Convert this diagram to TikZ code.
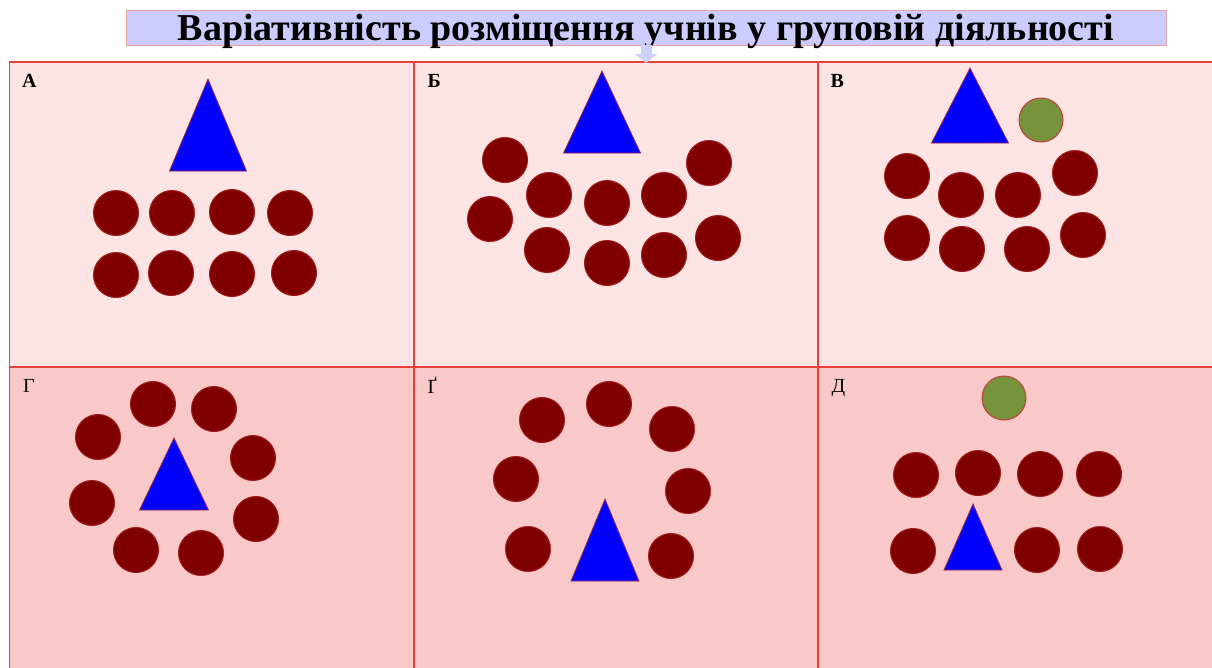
\documentclass[tikz,border=0pt]{standalone}
\usepackage{fontspec}
\setmainfont{Liberation Serif}
\usepackage{xcolor}
\definecolor{cStudent}{HTML}{800000}
\definecolor{cStudentLine}{HTML}{A01C1C}
\definecolor{cTeacher}{HTML}{0000FF}
\definecolor{cTeacherLine}{HTML}{A02448}
\definecolor{cHelper}{HTML}{77933C}
\definecolor{cHelperLine}{HTML}{C0403A}
\definecolor{cGrid}{HTML}{E8403C}
\definecolor{cTop}{HTML}{FDE4E4}
\definecolor{cBottom}{HTML}{F9C9C9}
\definecolor{cTitle}{HTML}{CCCCFF}
\definecolor{cTitleLine}{HTML}{E4A4A4}
\usepackage{tikz}
\usetikzlibrary{positioning,arrows.meta,shapes.geometric}
\tikzset{
  node-title/.style={draw=cTitleLine,thick,fill=cTitle,minimum width=1040,
    minimum height=35,inner sep=0,text height=28pt,text depth=3pt,
    font=\fontsize{38}{40}\selectfont\bfseries},
  node-cell/.style={draw=cGrid,line width=1.2pt,minimum width=404,
    minimum height=305,inner sep=0},
  node-letter/.style={inner sep=0,font=\fontsize{20}{22}\selectfont},
  node-letter-bold/.style={node-letter,font=\fontsize{20}{22}\selectfont\bfseries},
  node-student/.style={circle,draw=cStudentLine,line width=1pt,fill=cStudent,
    minimum size=45,inner sep=0},
  node-helper/.style={circle,draw=cHelperLine,line width=1pt,fill=cHelper,
    minimum size=44,inner sep=0},
  node-teacher/.style={isosceles triangle,isosceles triangle stretches,
    shape border rotate=90,draw=cTeacherLine,line width=0.8pt,fill=cTeacher,
    inner sep=0,anchor=apex},
  arrow-pale/.style={-{Triangle[width=22pt,length=9pt]},line width=11pt,
    draw=cTitle!90!white},
}
\begin{document}
\begin{tikzpicture}[x=1pt,y=-1pt]
  \clip (0,0) rectangle (1212,667);
  \useasboundingbox (0,0) rectangle (1212,667);
  % cells
  \node[node-cell,fill=cTop] (cA) at (211.5,214.5) {};
  \node[node-cell,fill=cTop] (cB) at (616,214.5) {};
  \node[node-cell,fill=cTop] (cV) at (1020,214.5) {};
  \node[node-cell,fill=cBottom] (cG) at (211.5,519.5) {};
  \node[node-cell,fill=cBottom] (cGg) at (616,519.5) {};
  \node[node-cell,fill=cBottom] (cD) at (1020,519.5) {};
  \node[node-letter-bold,below right=13pt and 13pt of cA.north west] (lA) {А};
  \node[node-letter-bold,below right=13pt and 14pt of cB.north west] (lB) {Б};
  \node[node-letter-bold,below right=13pt and 13pt of cV.north west] (lV) {В};
  \node[node-letter,below right=13pt and 14pt of cG.north west] (lG) {Г};
  \node[node-letter,below right=10pt and 14pt of cGg.north west] (lGg) {Ґ};
  \node[node-letter,below right=13pt and 14pt of cD.north west] (lD) {Д};
  % title
  \node[node-title] (title) at (646,27.5) {Варіативність розміщення учнів у груповій діяльності};
  \coordinate (gridtop) at (646,63);
  \draw[arrow-pale] (title.south) -- (gridtop);
  % A
  \node[node-teacher,minimum width=77,minimum height=92] (tA) at (208,78) {};
  \foreach \x/\y [count=\i] in {116/213,172/213,232/212,290/213,116/275,171/273,232/274,294/273}
    \node[node-student] (sA\i) at (\x,\y) {};
  % Б
  \node[node-teacher,minimum width=77,minimum height=82] (tB) at (602,70) {};
  \foreach \x/\y [count=\i] in {505/160,549/195,607/203,664/195,709/163,490/219,547/250,607/263,664/255,718/238}
    \node[node-student] (sB\i) at (\x,\y) {};
  % В
  \node[node-teacher,minimum width=77,minimum height=75] (tV) at (970,67) {};
  \node[node-helper] (hV) at (1041,120) {};
  \foreach \x/\y [count=\i] in {907/176,961/195,1018/195,1075/173,907/238,962/249,1027/249,1083/235}
    \node[node-student] (sV\i) at (\x,\y) {};
  % Г
  \node[node-teacher,minimum width=69,minimum height=72] (tG) at (174,437) {};
  \foreach \x/\y [count=\i] in {153/404,214/409,98/437,253/458,92/503,256/519,136/550,201/553}
    \node[node-student] (sG\i) at (\x,\y) {};
  % Ґ
  \node[node-teacher,minimum width=68,minimum height=82] (tGg) at (605,498) {};
  \foreach \x/\y [count=\i] in {609/404,542/420,672/429,516/479,688/491,528/549,671/556}
    \node[node-student] (sGg\i) at (\x,\y) {};
  % Д
  \node[node-helper] (hD) at (1004,398) {};
  \node[node-teacher,minimum width=58,minimum height=66] (tD) at (973,503) {};
  \foreach \x/\y [count=\i] in {916/475,978/473,1040/474,1099/474,913/551,1037/550,1100/549}
    \node[node-student] (sD\i) at (\x,\y) {};
\end{tikzpicture}
\end{document}
